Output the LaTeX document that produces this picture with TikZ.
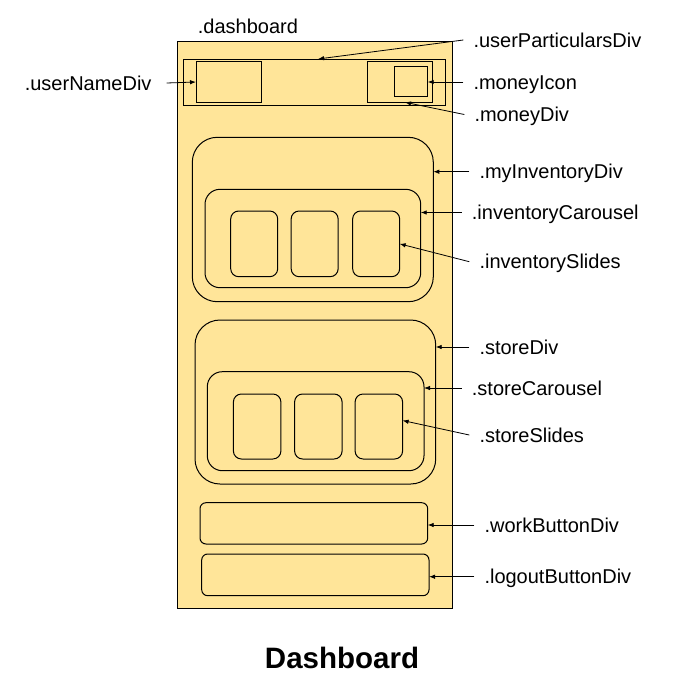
\documentclass[tikz,border=0pt]{standalone}
\usepackage{fontspec}
\setmainfont{Liberation Sans}
\usetikzlibrary{arrows.meta}
\definecolor{divfill}{HTML}{FFE599}

\begin{document}
\begin{tikzpicture}[
    x=1pt, y=-1pt,
    box/.style={draw, line width=1pt, fill=divfill, rectangle, inner sep=0pt, outer sep=0pt},
    roundbox/.style={box, rounded corners=#1},
    lbl/.style={inner xsep=10pt, inner ysep=0pt, text height=14.5pt, text depth=0.1pt, font=\fontsize{20}{24}\selectfont},
    arr/.style={-{Latex[length=6pt,width=4.5pt]}, line width=0.8pt}
  ]
    \useasboundingbox (0,0) rectangle (676,691);

    % Blocks
    \node[box, minimum width=275pt, minimum height=566.5pt] at (315,324.75) (dashboard) {};
    \node[box, minimum width=262.4pt, minimum height=46pt] at (314.5,82) (userParticularsDiv) {};
    \node[box, minimum width=65pt, minimum height=40.6pt] at (228.5,82) (userNameDiv) {};
    \node[box, minimum width=65.4pt, minimum height=40.6pt] at (400,82) (moneyDiv) {};
    \node[box, minimum width=33pt, minimum height=30pt] at (411.2,81.7) (moneyIcon) {};

    \node[roundbox=25pt, minimum width=241pt, minimum height=164.4pt] at (312.8,219.5) (myInventoryDiv) {};
    \node[roundbox=15pt, minimum width=215.7pt, minimum height=98.4pt] at (312.85,238.5) (inventoryCarousel) {};
    \node[roundbox=8pt, minimum width=47pt, minimum height=65.7pt] at (254.2,243.85) (invSlide1) {};
    \node[roundbox=8pt, minimum width=47pt, minimum height=65.7pt] at (314.65,243.85) (invSlide2) {};
    \node[roundbox=8pt, minimum width=47pt, minimum height=65.7pt] at (376.15,243.85) (invSlide3) {};

    \node[roundbox=25pt, minimum width=240.7pt, minimum height=164pt] at (315.35,402) (storeDiv) {};
    \node[roundbox=15pt, minimum width=216.7pt, minimum height=99pt] at (315.65,421.2) (storeCarousel) {};
    \node[roundbox=8pt, minimum width=47.5pt, minimum height=65pt] at (257.15,426.5) (storeSlide1) {};
    \node[roundbox=8pt, minimum width=47.5pt, minimum height=65pt] at (318.35,426.5) (storeSlide2) {};
    \node[roundbox=8pt, minimum width=47.5pt, minimum height=65pt] at (378.85,426.5) (storeSlide3) {};

    \node[roundbox=6pt, minimum width=227.7pt, minimum height=41.3pt] at (313.85,523.35) (workButtonDiv) {};
    \node[roundbox=6pt, minimum width=227.3pt, minimum height=41.7pt] at (315.35,574.85) (logoutButtonDiv) {};

    % Labels
    \node[lbl, anchor=west, inner xsep=0pt] at (197.7,26.3) (lDashboard) {.dashboard};
    \node[lbl, anchor=west] at (463.3,40) (lUserParticulars) {.userParticularsDiv};
    \node[lbl, anchor=east, inner xsep=15pt] at (166.7,83) (lUserName) {.userNameDiv};
    \node[lbl, anchor=west] at (463.3,82) (lMoneyIcon) {.moneyIcon};
    \node[lbl, anchor=west] at (464.3,114.5) (lMoneyDiv) {.moneyDiv};
    \node[lbl, anchor=west] at (469.3,171.7) (lMyInventory) {.myInventoryDiv};
    \node[lbl, anchor=west] at (461.7,212.5) (lInvCarousel) {.inventoryCarousel};
    \node[lbl, anchor=west] at (469.3,261.7) (lInvSlides) {.inventorySlides};
    \node[lbl, anchor=west] at (469.3,347) (lStoreDiv) {.storeDiv};
    \node[lbl, anchor=west] at (461.7,388) (lStoreCarousel) {.storeCarousel};
    \node[lbl, anchor=west] at (469.3,435) (lStoreSlides) {.storeSlides};
    \node[lbl, anchor=west] at (474.3,525) (lWork) {.workButtonDiv};
    \node[lbl, anchor=west] at (474.3,576.7) (lLogout) {.logoutButtonDiv};

    \node[font=\bfseries\fontsize{29.5}{35}\selectfont, anchor=base] at (342,668.3) (title) {Dashboard};

    % Pointers
    \draw[arr] (lUserParticulars.west) -- ([xshift=3.5pt]userParticularsDiv.north);
    \draw[arr] (lUserName.east) -- (userNameDiv.west);
    \draw[arr] (lMoneyIcon.west) -- (lMoneyIcon.west -| moneyIcon.east);
    \draw[arr] (lMoneyDiv.west) -- ([xshift=5pt]moneyDiv.south);
    \draw[arr] (lMyInventory.west) -- (lMyInventory.west -| myInventoryDiv.east);
    \draw[arr] (lInvCarousel.west) -- (lInvCarousel.west -| inventoryCarousel.east);
    \draw[arr] (lInvSlides.west) -- (invSlide3.east);
    \draw[arr] (lStoreDiv.west) -- (lStoreDiv.west -| storeDiv.east);
    \draw[arr] (lStoreCarousel.west) -- (lStoreCarousel.west -| storeCarousel.east);
    \draw[arr] (lStoreSlides.west) -- ([yshift=6pt]storeSlide3.east);
    \draw[arr] (lWork.west) -- (lWork.west -| workButtonDiv.east);
    \draw[arr] (lLogout.west) -- (lLogout.west -| logoutButtonDiv.east);

  \end{tikzpicture}
\end{document}
